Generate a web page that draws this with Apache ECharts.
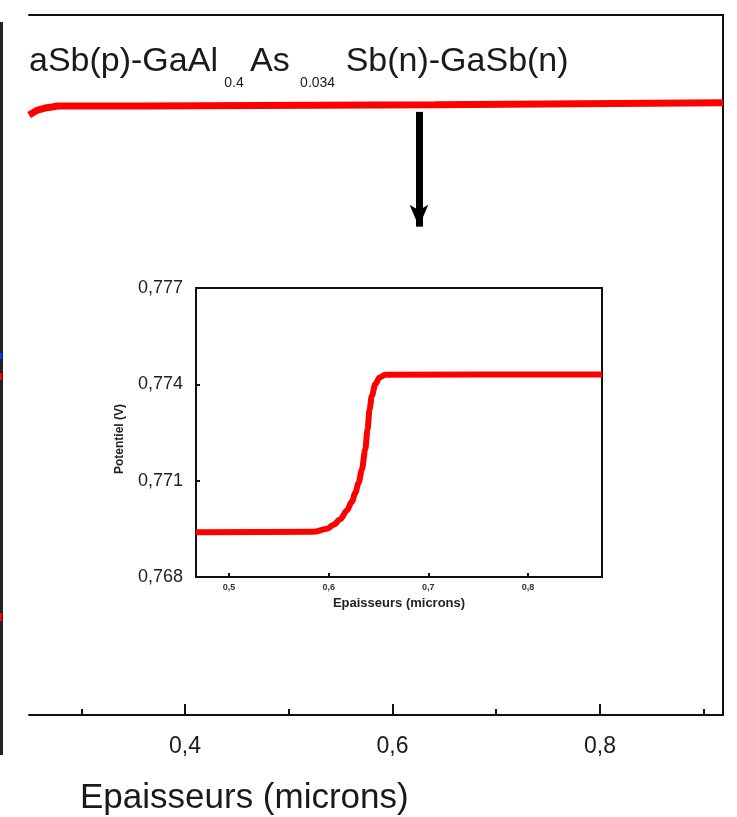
<!DOCTYPE html>
<html>
<head>
<meta charset="utf-8">
<script src="https://cdn.jsdelivr.net/npm/echarts@6/dist/echarts.min.js"></script>
<style>
  html, body { margin: 0; padding: 0; background: #ffffff; }
  #chart { width: 737px; height: 817px; }
</style>
</head>
<body>
<div id="chart"></div>
<script>
// ---- Main panel data (thickness in microns, potential in V) ----
const mainThickness = [0.2496, 0.258, 0.265, 0.272, 0.277, 0.3566, 0.3566, 0.641, 0.641, 0.9186];
const mainPotential = [0.7442, 0.7565, 0.7614, 0.7638, 0.7663, 0.7663, 0.7694, 0.7694, 0.7743, 0.7743];
const mainMajorTicks = [0.4, 0.6, 0.8];
const mainMinorTicks = [0.3, 0.5, 0.7, 0.9];
const mainXRange = [0.2496, 0.9186];
const mainYRange = [-0.73, 0.99];

// ---- Inset data ----
const insetThickness = [0.4669, 0.585, 0.5983, 0.605, 0.6117, 0.6183, 0.6233, 0.6267, 0.63, 0.6333, 0.6367, 0.639, 0.641, 0.6433, 0.6467, 0.651, 0.6567, 0.8742];
const insetPotential = [0.76939, 0.76941, 0.7695, 0.76963, 0.7698, 0.77007, 0.77035, 0.77062, 0.77093, 0.77134, 0.77197, 0.77259, 0.77322, 0.77364, 0.774, 0.77421, 0.7743, 0.77431];
const insetXTicks = [0.5, 0.6, 0.7, 0.8];
const insetYTicks = [0.768, 0.771, 0.774, 0.777];
const insetXRange = [0.4669, 0.8742];

// ---- Texts ----
const titleMain1 = 'aSb(p)-GaAl';
const titleSub1 = '0.4';
const titleMain2 = 'As';
const titleSub2 = '0.034';
const titleMain3 = 'Sb(n)-GaSb(n)';
const mainXName = 'Epaisseurs (microns)';
const insetXName = 'Epaisseurs (microns)';
const insetYName = 'Potentiel (V)';

// ---- Arrow annotation (data space of main panel) ----
const arrowThickness = 0.6255;

const comma = (v, d) => v.toFixed(d).replace('.', ',');
const zip = (a, b) => a.map((x, i) => [x, b[i]]);

const chart = echarts.init(document.getElementById('chart'), null, { renderer: 'canvas' });

const FONT = '"Liberation Sans", Arial, sans-serif';
const INK = '#1a1a1a';

const option = {
  backgroundColor: '#ffffff',
  animation: false,
  title: [
    {
      left: 29, top: 34, padding: 0,
      text: '{m|' + titleMain1 + '}{s1|' + titleSub1 + '}{m|' + titleMain2 + '}{s2|' + titleSub2 + '}{m|' + titleMain3 + '}',
      textStyle: {
        fontWeight: 'normal',
        rich: {
          m: { fontSize: 34, fontWeight: 'normal', fontFamily: FONT, color: INK, lineHeight: 56, verticalAlign: 'middle' },
          s1: { fontSize: 14, fontWeight: 'normal', fontFamily: FONT, color: INK, lineHeight: 12, width: 32, align: 'center', verticalAlign: 'bottom' },
          s2: { fontSize: 14, fontWeight: 'normal', fontFamily: FONT, color: INK, lineHeight: 12, width: 56, align: 'center', verticalAlign: 'bottom' }
        }
      }
    },
    {
      left: 80, top: 781, padding: 0,
      text: mainXName,
      textStyle: { fontSize: 35, fontWeight: 'normal', fontFamily: FONT, color: INK }
    }
  ],
  grid: [
    { left: 29, top: 15, right: 14, bottom: 102, containLabel: false },
    { left: 196, top: 288, right: 135, bottom: 240, containLabel: false,
      show: true, borderColor: '#111', borderWidth: 2, backgroundColor: 'transparent' }
  ],
  xAxis: [
    { // main, major ticks + labels
      type: 'value', gridIndex: 0, position: 'bottom',
      min: mainXRange[0], max: mainXRange[1],
      axisLine: { show: true, onZero: false, lineStyle: { color: '#111', width: 2 } },
      axisTick: { show: true, inside: true, length: 11, customValues: mainMajorTicks, lineStyle: { color: '#111', width: 2 } },
      axisLabel: { show: true, customValues: mainMajorTicks, formatter: v => comma(v, 1), fontSize: 23, fontFamily: FONT, color: INK, margin: 20 },
      splitLine: { show: false }
    },
    { // main, minor ticks
      type: 'value', gridIndex: 0, position: 'bottom',
      min: mainXRange[0], max: mainXRange[1],
      axisLine: { show: false, onZero: false },
      axisTick: { show: true, inside: true, length: 6, customValues: mainMinorTicks, lineStyle: { color: '#111', width: 2 } },
      axisLabel: { show: false },
      splitLine: { show: false }
    },
    { // main, top border
      type: 'value', gridIndex: 0, position: 'top',
      min: mainXRange[0], max: mainXRange[1],
      axisLine: { show: true, onZero: false, lineStyle: { color: '#111', width: 2 } },
      axisTick: { show: false }, axisLabel: { show: false }, splitLine: { show: false }
    },
    { // inset
      type: 'value', gridIndex: 1, position: 'bottom',
      min: insetXRange[0], max: insetXRange[1],
      name: insetXName, nameLocation: 'middle', nameGap: 20,
      nameTextStyle: { fontSize: 13, fontWeight: 'bold', fontFamily: FONT, color: '#222' },
      axisLine: { show: true, onZero: false, lineStyle: { color: '#111', width: 2 } },
      axisTick: { show: true, inside: true, length: 4, customValues: insetXTicks, lineStyle: { color: '#111', width: 2 } },
      axisLabel: { show: true, customValues: insetXTicks, formatter: v => comma(v, 1), fontSize: 9, fontWeight: 'bold', fontFamily: FONT, color: '#333', margin: 6 },
      splitLine: { show: false }
    }
  ],
  yAxis: [
    { // main (hidden scale, right border line)
      type: 'value', gridIndex: 0, position: 'right',
      min: mainYRange[0], max: mainYRange[1],
      axisLine: { show: true, onZero: false, lineStyle: { color: '#111', width: 2 } },
      axisTick: { show: false }, axisLabel: { show: false }, splitLine: { show: false }
    },
    { // inset
      type: 'value', gridIndex: 1, position: 'left',
      min: insetYTicks[0], max: insetYTicks[insetYTicks.length - 1], interval: 0.003,
      name: insetYName, nameLocation: 'middle', nameGap: 70, nameRotate: 90,
      nameTextStyle: { fontSize: 12, fontWeight: 'bold', fontFamily: FONT, color: '#222', padding: [0, 13, 0, 0] },
      axisLine: { show: true, onZero: false, lineStyle: { color: '#111', width: 2 } },
      axisTick: { show: true, inside: true, length: 4, lineStyle: { color: '#111', width: 2 } },
      axisLabel: { show: true, formatter: v => comma(v, 3), fontSize: 18, fontFamily: FONT, color: '#222', margin: 13 },
      splitLine: { show: false }
    }
  ],
  series: [
    {
      type: 'line', xAxisIndex: 0, yAxisIndex: 0,
      data: zip(mainThickness, mainPotential),
      showSymbol: false, symbol: 'none', clip: true,
      lineStyle: { color: '#ff0000', width: 7 },
      markLine: {
        silent: true, symbol: ['none', 'arrow'], symbolSize: [14, 22],
        label: { show: false },
        lineStyle: { color: '#000', width: 7, type: 'solid' },
        data: [[{ coord: [arrowThickness, 0.752] }, { coord: [arrowThickness, 0.47] }]]
      }
    },
    {
      type: 'line', xAxisIndex: 3, yAxisIndex: 1,
      data: zip(insetThickness, insetPotential),
      showSymbol: false, symbol: 'none', clip: true,
      smooth: 0.3, smoothMonotone: 'x',
      lineStyle: { color: '#ff0000', width: 6 }
    }
  ],
  graphic: [
    { type: 'line', shape: { x1: 1.5, y1: 22, x2: 1.5, y2: 755 }, style: { stroke: '#222', lineWidth: 3 } },
    { type: 'rect', shape: { x: 0, y: 353, width: 2, height: 6 }, style: { fill: '#1030ff' } },
    { type: 'rect', shape: { x: 0, y: 373, width: 2, height: 7 }, style: { fill: '#ff0000' } },
    { type: 'rect', shape: { x: 0, y: 613, width: 2, height: 8 }, style: { fill: '#ff0000' } }
  ]
};

chart.setOption(option);
</script>
</body>
</html>
